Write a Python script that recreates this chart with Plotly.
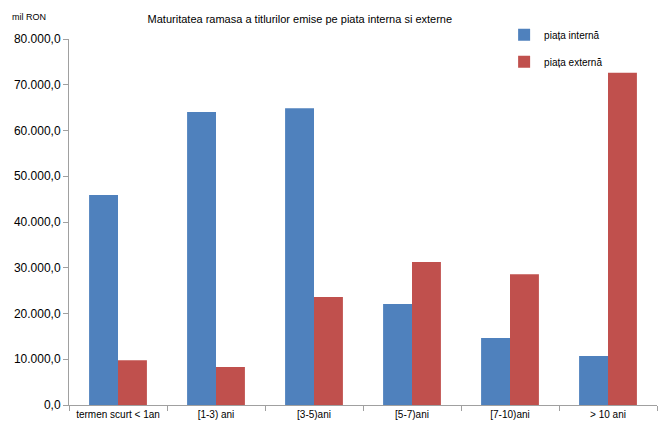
import plotly.graph_objects as go

categories = ["termen scurt < 1an", "[1-3) ani", "[3-5)ani", "[5-7)ani", "[7-10)ani", "> 10 ani"]
piata_interna = [45900, 64050, 64850, 22100, 14650, 10700]
piata_externa = [9800, 8300, 23600, 31250, 28600, 72600]
y_ticks = [0, 10000, 20000, 30000, 40000, 50000, 60000, 70000, 80000]

fig = go.Figure()
fig.add_trace(go.Bar(x=categories, y=piata_interna, name="piața internă",
                     marker=dict(color="#4F81BD", line=dict(width=0)), legendgroup="a"))
fig.add_trace(go.Bar(x=categories, y=piata_externa, name="piața externă",
                     marker=dict(color="#C0504D", line=dict(width=0)), legendgroup="b"))

fig.update_layout(
    width=659, height=421,
    margin=dict(l=69, r=2, t=39, b=16),
    paper_bgcolor="white", plot_bgcolor="white",
    font=dict(family="Liberation Sans, Arial, sans-serif", color="#000000"),
    separators=",.",
    barmode="group", bargap=0.41, bargroupgap=0,
    showlegend=True,
    legend=dict(x=0.74, y=1.051, xanchor="left", yanchor="top", bgcolor="rgba(0,0,0,0)",
                font=dict(size=10), traceorder="grouped", tracegroupgap=8,
                itemwidth=30),
    title=dict(text="Maturitatea ramasa a titlurilor emise pe piata interna si externe",
               x=0.455, xanchor="center", y=0.955, yanchor="middle",
               font=dict(size=11)),
    annotations=[dict(text="mil RON", xref="paper", yref="paper", x=-0.1, y=1.061,
                      xanchor="left", yanchor="middle", showarrow=False,
                      font=dict(size=9))],
)
fig.update_xaxes(showgrid=False, showline=True, linecolor="#A0A0A0", linewidth=1,
                 ticks="outside", tickson="boundaries", ticklen=5, tickcolor="#A0A0A0",
                 tickfont=dict(size=10))
fig.update_yaxes(range=[0, 80000], tickvals=y_ticks, tickformat=",.1f",
                 showgrid=False, zeroline=False, showline=True, linecolor="#A0A0A0",
                 linewidth=1, ticks="outside", ticklen=5, tickcolor="#A0A0A0",
                 tickfont=dict(size=12))

fig.write_html("out.html", config={"displayModeBar": False},
               post_script="document.body.style.margin='0';document.body.style.padding='0';")
